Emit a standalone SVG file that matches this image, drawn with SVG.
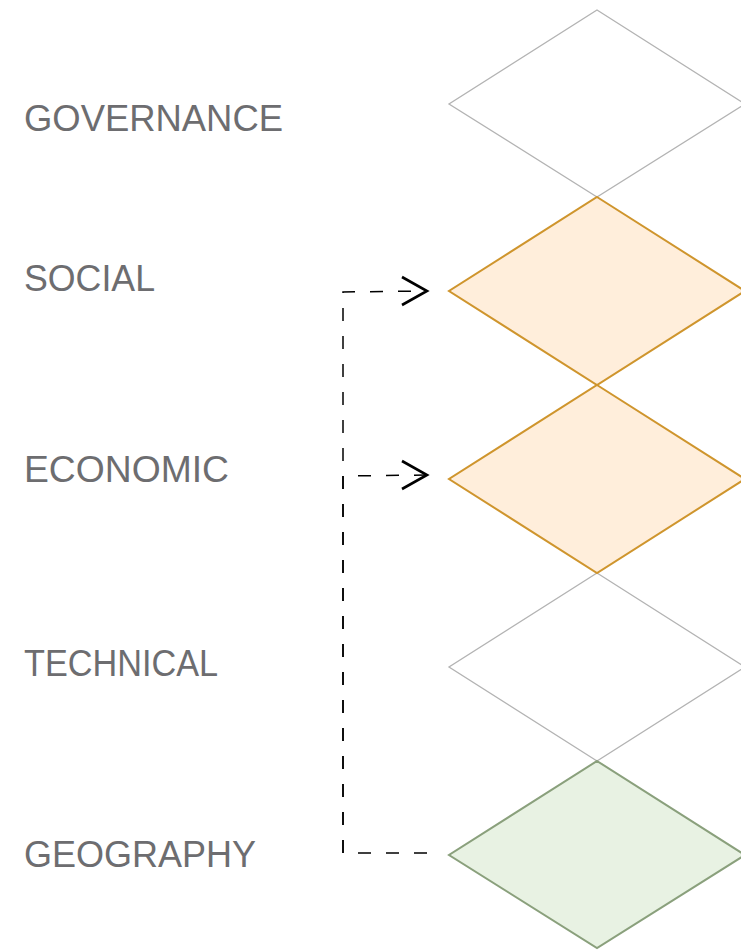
<svg xmlns="http://www.w3.org/2000/svg" width="741" height="950" viewBox="0 0 741 950">
<style>
.lbl{font-family:"Liberation Sans",Arial,sans-serif;font-size:36px;fill:#6d6d70}
.plain{fill:#ffffff;stroke:#b3b3b3;stroke-width:1.3}
.orange{fill:#ffeedb;stroke:#cf952d;stroke-width:2}
.green{fill:#e8f2e3;stroke:#8aa07c;stroke-width:2}
.dash{fill:none;stroke:#000;stroke-width:1.5;stroke-dasharray:13 15}
.head{fill:none;stroke:#000;stroke-width:2.6;stroke-linejoin:miter}
</style>
<rect width="741" height="950" fill="#ffffff"/>
<g id="governance">
<polygon class="plain" points="597,10 745,104 597,197 449,104"/>
<text class="lbl" x="24" y="131" textLength="259" lengthAdjust="spacingAndGlyphs">GOVERNANCE</text>
</g>
<g id="technical">
<polygon class="plain" points="597,573 745,667 597,761 449,667"/>
<text class="lbl" x="24" y="676" textLength="194" lengthAdjust="spacingAndGlyphs">TECHNICAL</text>
</g>
<g id="social">
<polygon class="orange" points="597,197 745,291 597,385 449,291"/>
<text class="lbl" x="24" y="291" textLength="131" lengthAdjust="spacingAndGlyphs">SOCIAL</text>
</g>
<g id="economic">
<polygon class="orange" points="597,385 745,479 597,573 449,479"/>
<text class="lbl" x="24" y="482" textLength="205" lengthAdjust="spacingAndGlyphs">ECONOMIC</text>
</g>
<g id="geography">
<polygon class="green" points="597,761 745,855 597,948 449,855"/>
<text class="lbl" x="24" y="867" textLength="232" lengthAdjust="spacingAndGlyphs">GEOGRAPHY</text>
</g>
<g id="connectors">
<path class="dash" d="M427,853 L343,853 L343,292 L426,291"/>
<path class="dash" d="M343,853 L343,476 L426,475"/>
<path class="head" d="M402,277 L427,291 L402,305"/>
<path class="head" d="M402,461 L427,475 L402,489"/>
</g>
</svg>
